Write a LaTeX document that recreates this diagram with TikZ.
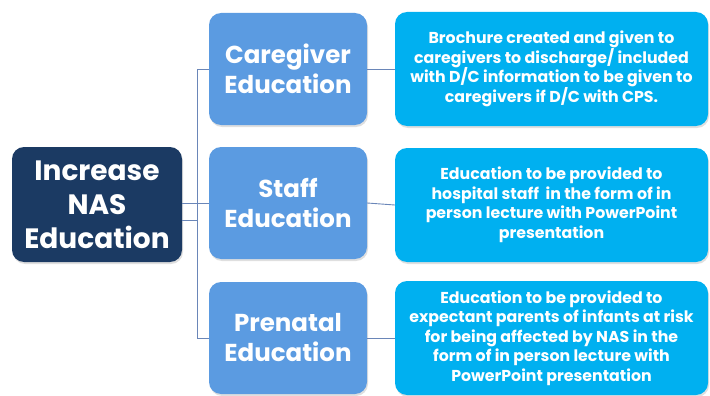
\documentclass[tikz,border=0pt]{standalone}
\usepackage{fontspec}
\setmainfont{Poppins}
\usetikzlibrary{shadows,calc}
\definecolor{rootc}{HTML}{1B3A63}
\definecolor{midc}{HTML}{5B9BE1}
\definecolor{leafc}{HTML}{00B0F0}
\definecolor{linec}{HTML}{6A86B8}
\begin{document}
\begin{tikzpicture}[x=1pt,y=-1pt,
  box/.style={rounded corners=12pt, inner sep=0pt, align=center, text=white,
    font=\bfseries, drop shadow={opacity=0.25, shadow xshift=1pt, shadow yshift=-2pt}},
  rootbox/.style={box, fill=rootc, minimum width=170pt, minimum height=115pt,
    font=\fontsize{28}{34}\selectfont\bfseries},
  midbox/.style={box, fill=midc, minimum width=158pt, minimum height=112pt,
    font=\fontsize{24.5}{30}\selectfont\bfseries},
  leafbox/.style={box, fill=leafc, minimum width=313pt, minimum height=114pt,
    font=\fontsize{15.8}{19.5}\selectfont\bfseries},
  conn/.style={draw=linec, line width=0.9pt}]
\useasboundingbox (0,0) rectangle (710,396);
\node[rootbox] (root) at (97,204.5) {Increase\\NAS\\Education};
\node[midbox] (care) at (288,69) {Caregiver\\Education};
\node[midbox] (staff) at (288,203) {Staff\\Education};
\node[midbox] (pren) at (288,338) {Prenatal\\Education};
\node[leafbox] (l1) at (551.5,69) {Brochure created and given to\\caregivers to discharge/ included\\with D/C information to be given to\\caregivers if D/C with CPS.};
\node[leafbox] (l2) at (551.5,205) {Education to be provided to\\hospital staff\ \ in the form of in\\person lecture with PowerPoint\\presentation};
\node[leafbox] (l3) at (551.5,338) {Education to be provided to\\expectant parents of infants at risk\\for being affected by NAS in the\\form of in person lecture with\\PowerPoint presentation};
\coordinate (bus) at (197,220);
\draw[conn] (root.east |- staff.west) -- (staff.west);
\draw[conn] ($(root.east)+(0,15.5)$) -- (bus);
\draw[conn] (bus) |- (care.west);
\draw[conn] (bus) |- (pren.west);
\draw[conn] (care.east) -- (l1.west);
\draw[conn] (staff.east) -- (l2.west);
\draw[conn] (pren.east) -- (l3.west);
\end{tikzpicture}
\end{document}
